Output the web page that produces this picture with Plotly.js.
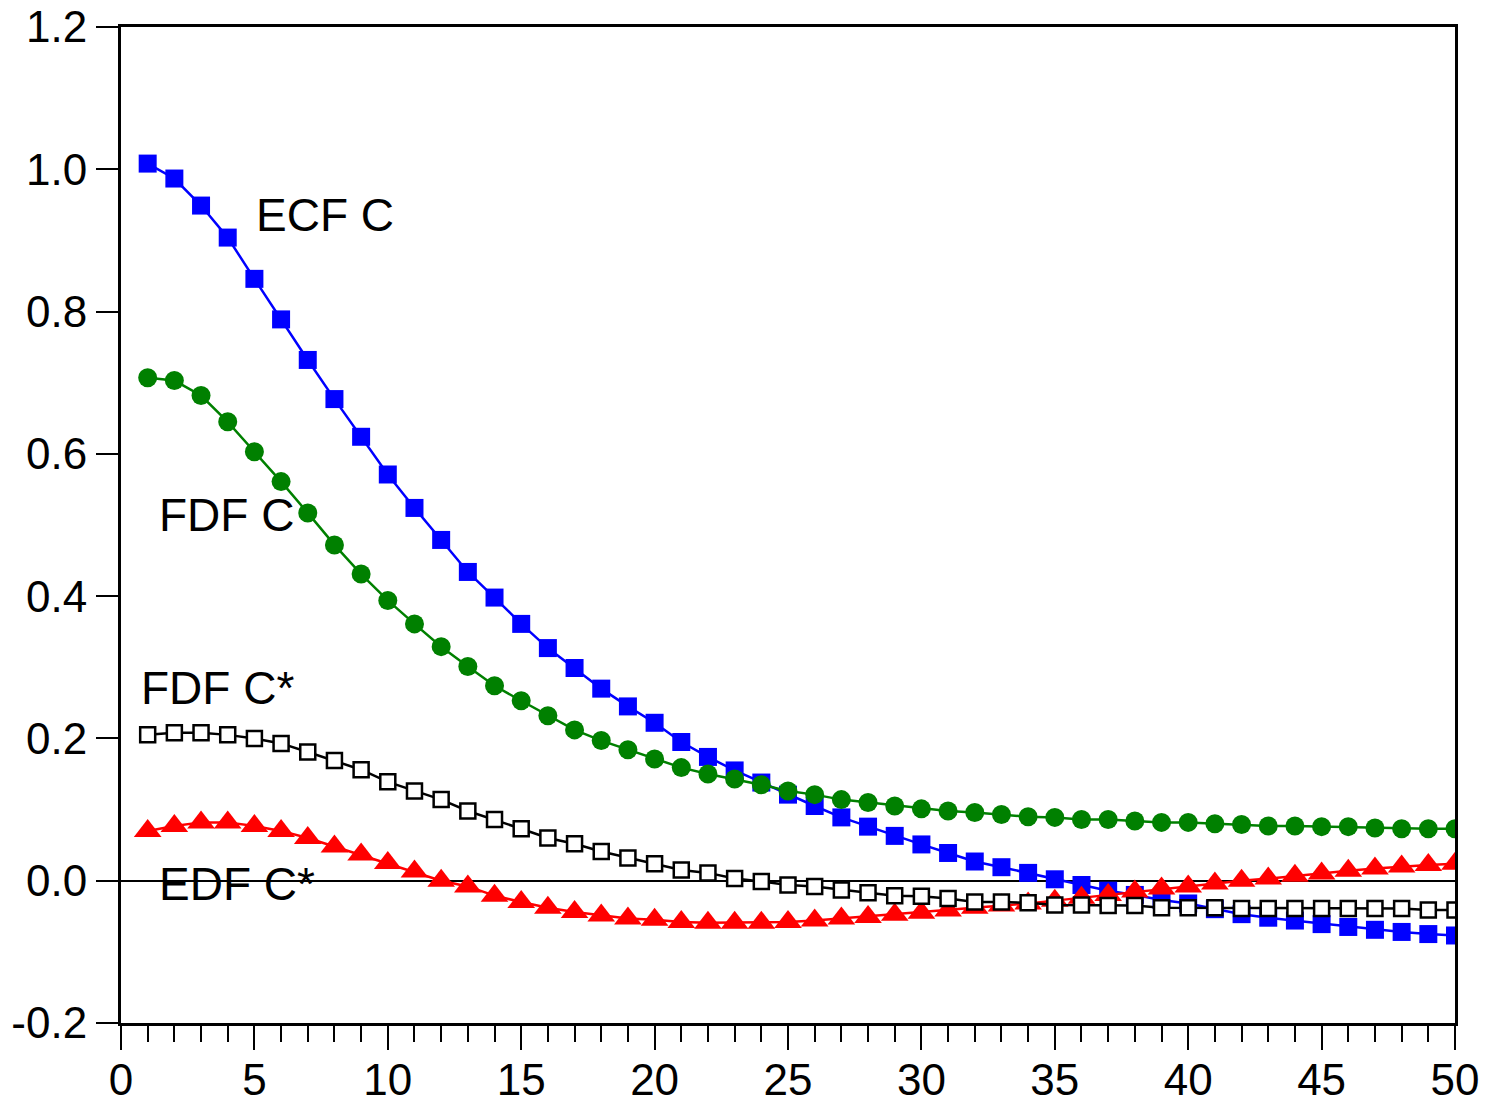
<!DOCTYPE html>
<html>
<head>
<meta charset="utf-8">
<script src="https://cdn.plot.ly/plotly-3.0.1.min.js"></script>
<style>
  html, body { margin: 0; padding: 0; background: #fff; }
  #chart { width: 1491px; height: 1111px; }
</style>
</head>
<body>
<div id="chart"></div>
<script>
// Lag index
const lags = Array.from({length: 50}, (_, i) => i + 1);

// ECF C (blue filled squares)
const ecfC = [1.008, 0.987, 0.949, 0.904, 0.846, 0.789, 0.732, 0.677, 0.624, 0.571,
              0.524, 0.479, 0.434, 0.398, 0.361, 0.327, 0.299, 0.270, 0.245, 0.222,
              0.195, 0.174, 0.155, 0.138, 0.121, 0.105, 0.089, 0.076, 0.063, 0.051,
              0.039, 0.027, 0.019, 0.011, 0.002, -0.006, -0.014, -0.020, -0.027, -0.032,
              -0.040, -0.047, -0.052, -0.056, -0.061, -0.065, -0.069, -0.072, -0.075, -0.077];

// FDF C (green filled circles)
const fdfC = [0.707, 0.703, 0.682, 0.645, 0.603, 0.561, 0.517, 0.472, 0.431, 0.394,
              0.361, 0.329, 0.301, 0.274, 0.253, 0.232, 0.212, 0.197, 0.184, 0.171,
              0.159, 0.150, 0.143, 0.135, 0.126, 0.121, 0.114, 0.110, 0.105, 0.101,
              0.098, 0.096, 0.093, 0.090, 0.089, 0.086, 0.086, 0.084, 0.082, 0.082,
              0.080, 0.079, 0.077, 0.077, 0.076, 0.076, 0.074, 0.073, 0.073, 0.073];

// FDF C* (black open squares)
const fdfCstar = [0.205, 0.208, 0.208, 0.205, 0.200, 0.193, 0.181, 0.169, 0.156, 0.139,
                  0.126, 0.114, 0.098, 0.086, 0.073, 0.060, 0.052, 0.041, 0.032, 0.024,
                  0.015, 0.011, 0.003, -0.001, -0.006, -0.008, -0.013, -0.017, -0.021, -0.022,
                  -0.025, -0.030, -0.030, -0.031, -0.034, -0.034, -0.035, -0.035, -0.038, -0.038,
                  -0.038, -0.039, -0.039, -0.039, -0.039, -0.039, -0.039, -0.039, -0.041, -0.041];

// EDF C* (red filled triangles)
const edfCstar = [0.070, 0.077, 0.082, 0.082, 0.077, 0.070, 0.060, 0.048, 0.037, 0.025,
                  0.013, 0.000, -0.008, -0.021, -0.030, -0.038, -0.044, -0.049, -0.053, -0.055,
                  -0.058, -0.059, -0.059, -0.059, -0.058, -0.056, -0.053, -0.051, -0.048, -0.045,
                  -0.042, -0.038, -0.035, -0.032, -0.028, -0.024, -0.020, -0.015, -0.011, -0.008,
                  -0.004, 0.000, 0.003, 0.007, 0.010, 0.014, 0.017, 0.020, 0.022, 0.024];

// Series labels
const seriesLabels = ["ECF C", "FDF C", "FDF C*", "EDF C*"];
const xTickVals = [0, 5, 10, 15, 20, 25, 30, 35, 40, 45, 50];
const yTickVals = [-0.2, 0.0, 0.2, 0.4, 0.6, 0.8, 1.0, 1.2];
const yTickText = ["-0.2", "0.0", "0.2", "0.4", "0.6", "0.8", "1.0", "1.2"];

const FONT = "Liberation Sans, Arial, sans-serif";

const traces = [
  {x: lags, y: ecfC, name: seriesLabels[0], mode: "lines+markers",
   line: {color: "#0000FF", width: 2.5},
   marker: {symbol: "square", size: 18, color: "#0000FF"}},
  {x: lags, y: edfCstar, name: seriesLabels[3], mode: "lines+markers",
   line: {color: "#FF0000", width: 2.5},
   marker: {symbol: "triangle-up", size: 24, color: "#FF0000"}},
  {x: lags, y: fdfC, name: seriesLabels[1], mode: "lines+markers",
   line: {color: "#008000", width: 2.5},
   marker: {symbol: "circle", size: 19, color: "#008000"}},
  {x: lags, y: fdfCstar, name: seriesLabels[2], mode: "lines+markers",
   line: {color: "#000000", width: 2.5},
   marker: {symbol: "square", size: 15, color: "#FFFFFF", line: {color: "#000000", width: 2.5}}}
];

const annFont = {family: FONT, size: 46, color: "#000"};
const layout = {
  width: 1491, height: 1111,
  margin: {l: 121, r: 36, t: 27, b: 88, pad: 0},
  paper_bgcolor: "#fff", plot_bgcolor: "#fff",
  showlegend: false,
  font: {family: FONT, size: 44, color: "#000"},
  xaxis: {
    range: [0, 50], tickvals: xTickVals, ticks: "outside", ticklen: 24, tickwidth: 2,
    tickcolor: "#000", showline: true, linecolor: "#000", linewidth: 3, mirror: true,
    showgrid: false, zeroline: false, tickfont: {family: FONT, size: 44},
    ticklabelstandoff: -8,
    minor: {dtick: 1, ticks: "outside", ticklen: 16, tickwidth: 2, tickcolor: "#000", showgrid: false}
  },
  yaxis: {
    range: [-0.2, 1.2], tickvals: yTickVals, ticktext: yTickText, ticks: "outside", ticklen: 22, tickwidth: 2,
    tickcolor: "#000", showline: true, linecolor: "#000", linewidth: 3, mirror: true,
    showgrid: false, zeroline: true, zerolinecolor: "#000", zerolinewidth: 2,
    tickfont: {family: FONT, size: 44}
  },
  annotations: [
    {x: 5.0, y: 0.936, text: seriesLabels[0], xanchor: "left", yanchor: "middle", showarrow: false, font: annFont},
    {x: 1.35, y: 0.514, text: seriesLabels[1], xanchor: "left", yanchor: "middle", showarrow: false, font: annFont},
    {x: 0.68, y: 0.271, text: seriesLabels[2], xanchor: "left", yanchor: "middle", showarrow: false, font: annFont},
    {x: 1.35, y: -0.004, text: seriesLabels[3], xanchor: "left", yanchor: "middle", showarrow: false, font: annFont}
  ]
};

Plotly.newPlot("chart", traces, layout, {displayModeBar: false, staticPlot: true});
</script>
</body>
</html>
